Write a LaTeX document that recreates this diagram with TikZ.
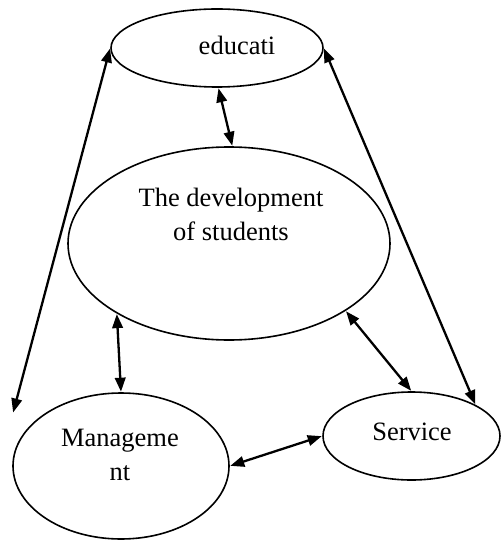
\documentclass[tikz,border=0pt]{standalone}
\usepackage{fontspec}
\setmainfont{Liberation Serif}
\usetikzlibrary{shapes.geometric,arrows.meta}
\begin{document}
\begin{tikzpicture}[x=1pt,y=-1pt,
  ell/.style={draw,ellipse,line width=1.6pt,inner sep=0pt},
  lbl/.style={font=\fontsize{26.5}{34}\selectfont,align=center,inner sep=0pt},
  link/.style={line width=2.3pt,{Triangle[length=14pt,width=10.5pt]}-{Triangle[length=14pt,width=10.5pt]},shorten <=0.5pt,shorten >=0.5pt}]
\useasboundingbox (0,0) rectangle (501,540);
\node[ell,minimum width=212pt,minimum height=78pt] (edu) at (217,48) {};
\node[ell,minimum width=322pt,minimum height=193pt] (dev) at (229,243.5) {};
\node[ell,minimum width=216pt,minimum height=146pt] (man) at (121,466) {};
\node[ell,minimum width=177pt,minimum height=88pt] (ser) at (411.5,436) {};
\node[lbl] (edut) at (237,45) {educati};
\node[lbl] (devt) at (231,214) {The development\\of students};
\node[lbl] (mant) at (120,455) {Manageme\\nt};
\node[lbl] (sert) at (412,432) {Service};
\coordinate (lend) at (13,413);
\draw[link] (edu.-88.5) -- (dev.88.8);
\draw[link] (edu.180) -- (lend);
\draw[link] (edu.0) -- (ser.26);
\draw[link] (dev.-148.8) -- (man.90);
\draw[link] (dev.-30) -- (ser.90);
\draw[link] (man.-0.5) -- (ser.180);
\end{tikzpicture}
\end{document}
